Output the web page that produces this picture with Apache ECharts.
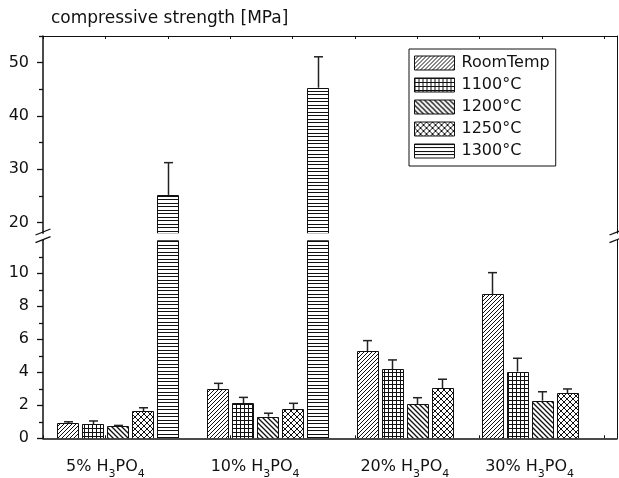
<!DOCTYPE html>
<html>
<head>
<meta charset="utf-8">
<script src="https://cdn.jsdelivr.net/npm/echarts@6/dist/echarts.min.js"></script>
<style>
  html, body { margin: 0; padding: 0; background: #fff; }
  #main { width: 619px; height: 478px; }
</style>
</head>
<body>
<div id="main"></div>
<script>
// ---- data ----
const groups = ['5% H3PO4', '10% H3PO4', '20% H3PO4', '30% H3PO4'];
const names = ['RoomTemp', '1100°C', '1200°C', '1250°C', '1300°C'];
const roomTemp = [0.91, 2.97, 5.29, 8.73];
const roomTempSd = [0.09, 0.36, 0.63, 1.31];
const t1100 = [0.85, 2.12, 4.18, 4.04];
const t1100Sd = [0.20, 0.36, 0.57, 0.81];
const t1200 = [0.74, 1.31, 2.08, 2.28];
const t1200Sd = [0.04, 0.21, 0.38, 0.54];
const t1250 = [1.65, 1.76, 3.03, 2.73];
const t1250Sd = [0.20, 0.36, 0.55, 0.26];
const t1300 = [25.2, 45.3, null, null];
const t1300Sd = [6.05, 5.8, null, null];
const lowTicks = [0, 2, 4, 6, 8, 10];
const lowMinor = [1, 3, 5, 7, 9, 11];
const highTicks = [20, 30, 40, 50];
const highMinor = [25, 35, 45, 55];

const values = [roomTemp, t1100, t1200, t1250, t1300];
const sds = [roomTempSd, t1100Sd, t1200Sd, t1250Sd, t1300Sd];

// ---- layout ----
const FONT = "'DejaVu Sans', sans-serif";
const INK = '#111';
const LEFT = 43, RIGHT = 617;
const UP_TOP = 36, UP_H = 197.3;
const LO_TOP = 240.3, LO_H = 198;
const UP_BOTTOM = UP_TOP + UP_H;
const BAR_W = 0.84; // in slot units

// bars are laid out one per slot, one empty slot between groups
const slots = values.map(() => []);
const labelSlots = [];
let s = 1;
groups.forEach((g, gi) => {
  const start = s;
  values.forEach((arr, si) => {
    if (arr[gi] == null) return;
    slots[si][gi] = s++;
  });
  labelSlots.push(start + 1.5);
  s++;
});

// hatch patterns
function tile(w, h, draw) {
  const c = document.createElement('canvas');
  c.width = w; c.height = h;
  const ctx = c.getContext('2d');
  ctx.fillStyle = '#fff';
  ctx.fillRect(0, 0, w, h);
  ctx.strokeStyle = INK;
  ctx.fillStyle = INK;
  draw(ctx, w, h);
  return { image: c, repeat: 'repeat' };
}
function slash(ctx, w, h) {
  ctx.beginPath();
  ctx.moveTo(0, h); ctx.lineTo(w, 0);
  ctx.moveTo(-1, 1); ctx.lineTo(1, -1);
  ctx.moveTo(w - 1, h + 1); ctx.lineTo(w + 1, h - 1);
  ctx.stroke();
}
function backslash(ctx, w, h) {
  ctx.beginPath();
  ctx.moveTo(0, 0); ctx.lineTo(w, h);
  ctx.moveTo(-1, h - 1); ctx.lineTo(1, h + 1);
  ctx.moveTo(w - 1, -1); ctx.lineTo(w + 1, 1);
  ctx.stroke();
}
const patterns = [
  tile(4, 4, (ctx, w, h) => { ctx.lineWidth = 1; slash(ctx, w, h); }),
  tile(4, 4, (ctx, w, h) => { ctx.fillRect(0, 0, w, 1); ctx.fillRect(0, 0, 1, h); }),
  tile(5, 5, (ctx, w, h) => { ctx.lineWidth = 1.3; backslash(ctx, w, h); }),
  tile(6, 6, (ctx, w, h) => { ctx.lineWidth = 1; slash(ctx, w, h); backslash(ctx, w, h); }),
  tile(7, 7, (ctx, w, h) => { ctx.fillRect(0, 0, w, 1); ctx.fillRect(0, 3, w, 1); })
];

function barSeries(si, grid) {
  const data = [];
  values[si].forEach((v, gi) => { if (v != null) data.push([slots[si][gi], v]); });
  return {
    type: 'custom',
    name: names[si],
    xAxisIndex: grid,
    yAxisIndex: grid === 0 ? 0 : 3,
    clip: true,
    data: data,
    itemStyle: { color: patterns[si], borderColor: INK, borderWidth: 1 },
    renderItem: function (params, api) {
      const cs = params.coordSys;
      const p = api.coord([api.value(0), api.value(1)]);
      const w = Math.round(api.size([BAR_W, 0])[0]);
      const x0 = Math.round(p[0] - w / 2) + 0.5;
      const bottom = Math.round(cs.y + cs.height) + 0.5;
      const top = Math.round(Math.max(p[1], cs.y)) + 0.5;
      if (top >= bottom) return null;
      return {
        type: 'rect',
        shape: { x: x0, y: top, width: w, height: bottom - top },
        style: { fill: patterns[si], stroke: INK, lineWidth: 1 }
      };
    }
  };
}

function errSeries(list, grid) {
  const data = [];
  list.forEach(si => {
    values[si].forEach((v, gi) => { if (v != null) data.push([slots[si][gi], v, sds[si][gi]]); });
  });
  return {
    type: 'custom',
    xAxisIndex: grid,
    yAxisIndex: grid === 0 ? 0 : 3,
    silent: true,
    z: 5,
    data: data,
    renderItem: function (params, api) {
      const x = api.value(0), v = api.value(1), e = api.value(2);
      const p0 = api.coord([x, v]);
      const p1 = api.coord([x, v + e]);
      const cx = Math.round(p0[0]) + 0.5;
      const st = { stroke: '#222', lineWidth: 1.5 };
      return {
        type: 'group',
        children: [
          { type: 'line', shape: { x1: cx, y1: p0[1], x2: cx, y2: p1[1] }, style: st },
          { type: 'line', shape: { x1: cx - 4.5, y1: p1[1], x2: cx + 4.5, y2: p1[1] }, style: st }
        ]
      };
    }
  };
}

const labelSeries = {
  type: 'custom',
  xAxisIndex: 1,
  yAxisIndex: 3,
  silent: true,
  clip: false,
  data: labelSlots.map((x, i) => [x, 0, i]),
  renderItem: function (params, api) {
    const p = api.coord([api.value(0), 0]);
    const txt = groups[api.value(2)].replace(/([A-Z])(\d)/g, '$1{s|$2}');
    return {
      type: 'text',
      x: p[0],
      y: p[1] + 17,
      style: {
        text: txt,
        fill: INK,
        fontSize: 16,
        fontFamily: FONT,
        lineHeight: 24,
        align: 'center',
        verticalAlign: 'top',
        rich: {
          s: { fontSize: 11, fontFamily: FONT, fill: INK, lineHeight: 14, verticalAlign: 'bottom' }
        }
      }
    };
  }
};

function yAxis(grid, min, max, opts) {
  return Object.assign({
    type: 'value', gridIndex: grid, min: min, max: max, position: 'left',
    axisLine: { show: false, onZero: false },
    axisTick: { show: false },
    axisLabel: { show: false },
    splitLine: { show: false }
  }, opts);
}
const tickLabel = { show: true, color: INK, fontSize: 16, fontFamily: FONT, margin: 14 };
const mainLine = { show: true, onZero: false, lineStyle: { color: INK, width: 1.5 } };
const borderLine = { show: true, onZero: false, lineStyle: { color: INK, width: 1 } };

function xAxis(grid, pos) {
  return {
    type: 'value', gridIndex: grid, position: pos, min: 0, max: 23, interval: 2.5,
    axisLine: { show: true, onZero: false, lineStyle: { color: INK, width: pos === 'bottom' ? 1.5 : 1 } },
    axisTick: { show: true, inside: true, length: 3, lineStyle: { color: INK } },
    axisLabel: { show: false },
    splitLine: { show: false }
  };
}

function breakMarks(x) {
  const st = { stroke: INK, lineWidth: 1.3 };
  return [
    { type: 'line', z: 100, shape: { x1: x - 7.5, y1: UP_BOTTOM + 1.7, x2: x + 7.5, y2: UP_BOTTOM - 4.3 }, style: st },
    { type: 'line', z: 100, shape: { x1: x - 7.5, y1: LO_TOP + 2.4, x2: x + 7.5, y2: LO_TOP - 3.6 }, style: st }
  ];
}

const chart = echarts.init(document.getElementById('main'), null, { renderer: 'canvas' });

const option = {
  backgroundColor: '#fff',
  animation: false,
  title: {
    text: 'compressive strength [MPa]',
    left: 51, top: 10, padding: 0,
    textStyle: { color: INK, fontSize: 17, fontWeight: 'normal', fontFamily: FONT }
  },
  legend: {
    orient: 'vertical',
    left: 409, top: 49,
    padding: [6, 6, 7, 5],
    itemWidth: 40, itemHeight: 14, itemGap: 6,
    borderColor: INK, borderWidth: 1,
    selectedMode: false,
    textStyle: { color: INK, fontSize: 16, fontFamily: FONT, lineHeight: 14, padding: [0, 0, 0, 2] },
    data: names.map((n, i) => ({
      name: n, icon: 'rect',
      itemStyle: { color: patterns[i], borderColor: INK, borderWidth: 1 }
    }))
  },
  grid: [
    { left: LEFT, top: UP_TOP, width: RIGHT - LEFT, height: UP_H },
    { left: LEFT, top: LO_TOP, width: RIGHT - LEFT, height: LO_H }
  ],
  xAxis: [xAxis(0, 'top'), xAxis(1, 'bottom')],
  yAxis: [
    yAxis(0, 18, 55, {
      axisLine: mainLine,
      axisTick: { show: true, length: 6, customValues: highTicks, lineStyle: { color: INK, width: 1.3 } },
      axisLabel: Object.assign({ customValues: highTicks }, tickLabel)
    }),
    yAxis(0, 18, 55, {
      axisTick: { show: true, length: 4, customValues: highMinor, lineStyle: { color: INK, width: 1.3 } }
    }),
    yAxis(0, 18, 55, { position: 'right', axisLine: borderLine }),
    yAxis(1, 0, 12, {
      axisLine: mainLine,
      axisTick: { show: true, length: 6, customValues: lowTicks, lineStyle: { color: INK, width: 1.3 } },
      axisLabel: Object.assign({ customValues: lowTicks }, tickLabel)
    }),
    yAxis(1, 0, 12, {
      axisTick: { show: true, length: 4, customValues: lowMinor, lineStyle: { color: INK, width: 1.3 } }
    }),
    yAxis(1, 0, 12, { position: 'right', axisLine: borderLine })
  ],
  graphic: breakMarks(LEFT).concat(breakMarks(RIGHT)),
  series: [
    barSeries(4, 0),
    errSeries([4], 0),
    barSeries(0, 1),
    barSeries(1, 1),
    barSeries(2, 1),
    barSeries(3, 1),
    barSeries(4, 1),
    errSeries([0, 1, 2, 3], 1),
    labelSeries
  ]
};

chart.setOption(option);
</script>
</body>
</html>
